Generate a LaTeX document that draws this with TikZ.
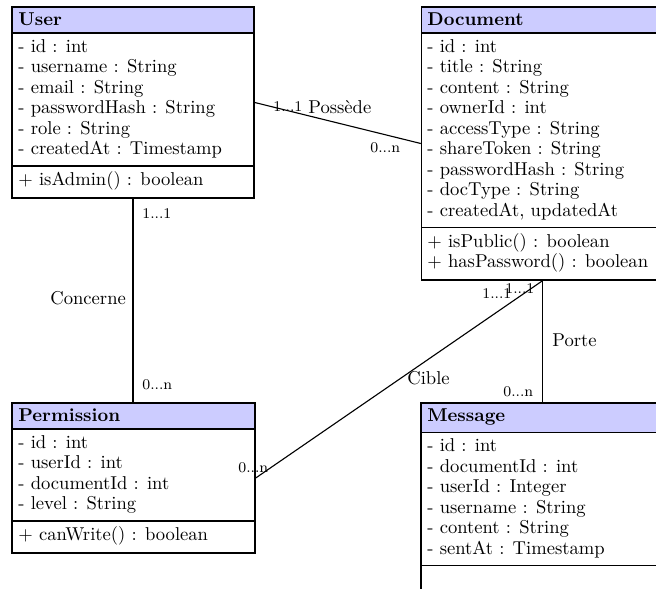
\documentclass[tikz,border=0pt]{standalone}
\usetikzlibrary{fit}
\definecolor{hdrfill}{RGB}{204,204,255}
\newcommand{\classlines}[4]{%
  \foreach \t [count=\i] in {#4} {
    \node[linetext] (#1\i) at (#2, {#3+20.5*(\i-1)}) {\t};
  }%
}
\begin{document}
\begin{tikzpicture}[x=0.5376pt, y=-0.5376pt,
  boxline/.style={line width=0.8pt},
  classbox/.style={draw, line width=0.8pt, inner sep=0pt},
  linetext/.style={anchor=base west, inner sep=0pt, font=\normalsize},
  titletext/.style={anchor=base west, inner sep=0pt, font=\normalsize\bfseries},
  mult/.style={anchor=base west, inner sep=0pt, font=\footnotesize},
  assocname/.style={anchor=base west, inner sep=0pt, font=\normalsize},
  assoc/.style={line width=0.6pt}]
\useasboundingbox (0,0) rectangle (656,589);
\clip (0,0) rectangle (656,589);

% ---------- User ----------
\fill[hdrfill] (12,7) rectangle (254,33);
\node[classbox, fit={(12,7) (254,198)}] (User) {};
\draw[boxline] (12,33) -- (254,33);
\draw[boxline] (12,166) -- (254,166);
\node[titletext] (UserT) at (18,26) {User};
\classlines{UserA}{18}{52.5}{{- id : int},{- username : String},{- email : String},{- passwordHash : String},{- role : String},{- createdAt : Timestamp}}
\classlines{UserM}{18}{186}{{$+$ isAdmin() : boolean}}

% ---------- Document ----------
\fill[hdrfill] (421.5,7) rectangle (663.5,33);
\node[classbox, fit={(421.5,7) (663.5,280)}] (Document) {};
\draw[boxline] (421.5,33) -- (663.5,33);
\draw[boxline] (421.5,227.5) -- (663.5,227.5);
\node[titletext] (DocT) at (427,26) {Document};
\classlines{DocA}{427}{52.5}{{- id : int},{- title : String},{- content : String},{- ownerId : int},{- accessType : String},{- shareToken : String},{- passwordHash : String},{- docType : String},{- createdAt, updatedAt}}
\classlines{DocM}{427}{247.5}{{$+$ isPublic() : boolean},{$+$ hasPassword() : boolean}}

% ---------- Permission ----------
\fill[hdrfill] (12,403) rectangle (255,429);
\node[classbox, fit={(12,403) (255,553)}] (Permission) {};
\draw[boxline] (12,429) -- (255,429);
\draw[boxline] (12,521) -- (255,521);
\node[titletext] (PermT) at (18,422) {Permission};
\classlines{PermA}{18}{448.5}{{- id : int},{- userId : int},{- documentId : int},{- level : String}}
\classlines{PermM}{18}{541}{{$+$ canWrite() : boolean}}

% ---------- Message ----------
\fill[hdrfill] (421,403) rectangle (664,432.6);
\node[classbox, fit={(421,403) (664,620)}] (Message) {};
\draw[boxline] (421,432.6) -- (664,432.6);
\draw[boxline] (421,565.5) -- (664,565.5);
\node[titletext] (MsgT) at (427,422) {Message};
\classlines{MsgA}{427}{452}{{- id : int},{- documentId : int},{- userId : Integer},{- username : String},{- content : String},{- sentAt : Timestamp}}

% ---------- Associations ----------
\draw[assoc] (User.east) -- (Document.west);
\draw[assoc] (User.south) -- (User.south |- Permission.north);
\draw[assoc] (Permission.east) -- (Document.south);
\draw[assoc] (Document.south) -- (Message.north);

% Possède
\node[mult] (possA) at (273,112) {1...1};
\node[assocname] (possN) at (308,114) {Possède};
\node[mult] (possB) at (370,153) {0...n};
% Concerne
\node[mult] (concA) at (142,219) {1...1};
\node[assocname] (concN) at (50,305) {Concerne};
\node[mult] (concB) at (142,390) {0...n};
% Cible
\node[mult] (cibA) at (482,299) {1...1};
\node[assocname] (cibN) at (407,385) {Cible};
\node[mult] (cibB) at (238,473) {0...n};
% Porte
\node[mult] (porA) at (505,294) {1...1};
\node[assocname] (porN) at (552,347) {Porte};
\node[mult] (porB) at (503,397) {0...n};
\end{tikzpicture}
\end{document}
